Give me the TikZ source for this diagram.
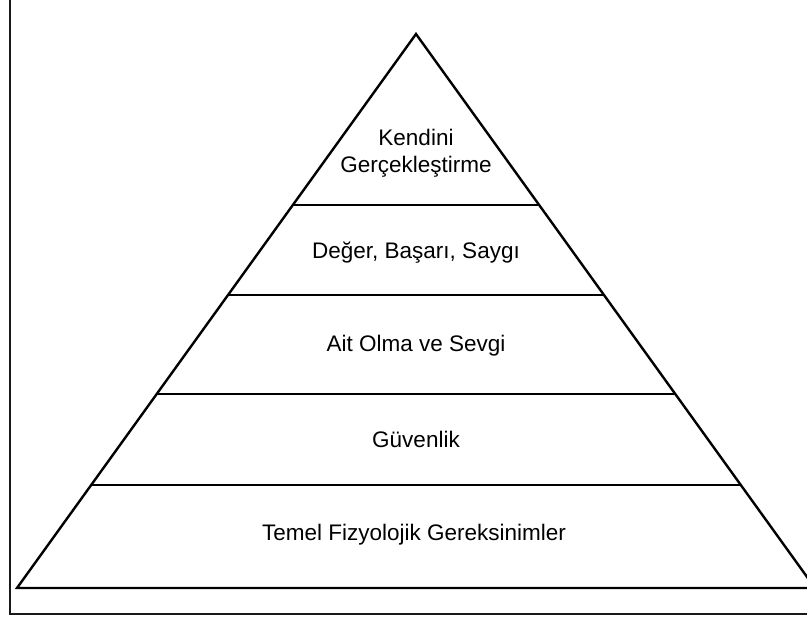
\documentclass[tikz,border=0pt]{standalone}
\usepackage{fontspec}
\setmainfont{Liberation Sans}
\begin{document}
\begin{tikzpicture}[x=1pt,y=-1pt,
  frame/.style={draw=black!90,line width=2.6pt},
  edge/.style={draw=black,line width=2.4pt,line join=miter},
  tier/.style={draw=black,line width=2.4pt},
  lbl/.style={font=\fontsize{22.5}{27}\selectfont,align=center,inner sep=0pt}]
\useasboundingbox (0,0) rectangle (807,619);
\clip (0,0) rectangle (807,619);
\draw[frame] (10,-10) rectangle (830,614);
\coordinate (apex) at (416,34);
\coordinate (bl) at (17,588);
\coordinate (br) at (815,588);
\draw[edge] (bl) -- (apex) -- (br) -- cycle;
\coordinate (a1) at (293,205); \coordinate (b1) at (539,205);
\coordinate (a2) at (228,295); \coordinate (b2) at (604,295);
\coordinate (a3) at (157,394); \coordinate (b3) at (675,394);
\coordinate (a4) at (91,485);  \coordinate (b4) at (741,485);
\draw[tier] (a1) -- (b1);
\draw[tier] (a2) -- (b2);
\draw[tier] (a3) -- (b3);
\draw[tier] (a4) -- (b4);
\node[lbl] (t1) at (416,153) {Kendini\\Gerçekleştirme};
\node[lbl] (t2) at (416,253) {Değer, Başarı, Saygı};
\node[lbl] (t3) at (416,346) {Ait Olma ve Sevgi};
\node[lbl] (t4) at (416,439) {Güvenlik};
\node[lbl] (t5) at (414,535) {Temel Fizyolojik Gereksinimler};
\end{tikzpicture}
\end{document}
